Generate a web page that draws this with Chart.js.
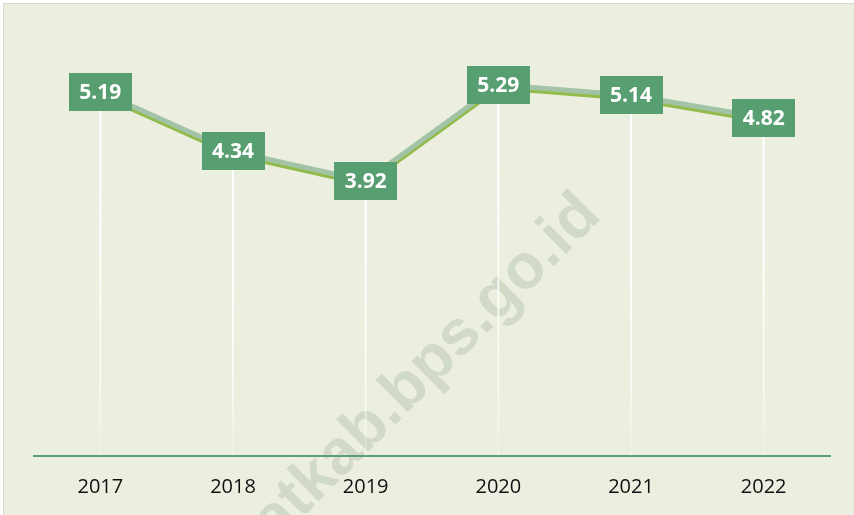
<!DOCTYPE html>
<html>
<head>
<meta charset="utf-8">
<script src="https://cdn.jsdelivr.net/npm/chart.js@4"></script>
<style>
  html, body { margin: 0; padding: 0; background: #fff; }
  #wrap {
    position: absolute; left: 3px; top: 3px; width: 850px; height: 512px;
    border-left: 1px solid #d6d6d6; border-top: 1px solid #d6d6d6;
    background: #ecefdf;
  }
  canvas { display: block; }
</style>
</head>
<body>
<div id="wrap"><canvas id="c" width="850" height="512"></canvas></div>
<script>
'use strict';

const years = ['2017', '2018', '2019', '2020', '2021', '2022'];
const values = [5.19, 4.34, 3.92, 5.29, 5.14, 4.82];
const yMin = 0;
const yMax = 6;

const BOX = '#579f70';
const LINE = '#a2c3a5';
const LINE_SHADOW = '#93bb4b';
const AXIS = '#5ba070';
const FONT = '"Open Sans", Lato, sans-serif';

// faint watermark behind everything
const watermark = {
  id: 'watermark',
  beforeDraw(chart) {
    const ctx = chart.ctx;
    ctx.save();
    ctx.translate(272, 540);
    ctx.rotate(-Math.PI / 4);
    ctx.font = 'bold 63px "Liberation Sans", Arial, sans-serif';
    ctx.fillStyle = '#d1d9c8';
    ctx.textBaseline = 'alphabetic';
    ctx.fillText('atkab.bps.go.id', 0, 0);
    ctx.restore();
  },
};

// white drop lines from each point down to the axis
const dropLines = {
  id: 'dropLines',
  beforeDatasetsDraw(chart) {
    const ctx = chart.ctx;
    const bottom = chart.chartArea.bottom;
    chart.getDatasetMeta(0).data.forEach((pt) => {
      const g = ctx.createLinearGradient(0, pt.y, 0, bottom);
      g.addColorStop(0, 'rgba(255,255,255,1)');
      g.addColorStop(0.75, 'rgba(255,255,255,0.7)');
      g.addColorStop(1, 'rgba(255,255,255,0.15)');
      ctx.save();
      ctx.strokeStyle = g;
      ctx.lineWidth = 2;
      ctx.beginPath();
      ctx.moveTo(pt.x, pt.y);
      ctx.lineTo(pt.x, bottom);
      ctx.stroke();
      ctx.restore();
    });
  },
};

// olive under-stroke for the line
const lineShadow = {
  id: 'lineShadow',
  beforeDatasetDraw(chart) {
    const ctx = chart.ctx;
    ctx.save();
    ctx.shadowColor = LINE_SHADOW;
    ctx.shadowOffsetY = 3;
    ctx.shadowBlur = 0;
  },
  afterDatasetDraw(chart) {
    chart.ctx.restore();
  },
};

// green value boxes
const valueBoxes = {
  id: 'valueBoxes',
  afterDatasetsDraw(chart) {
    const ctx = chart.ctx;
    const ds = chart.data.datasets[0];
    ctx.save();
    ctx.font = 'bold 21px ' + FONT;
    ctx.textAlign = 'center';
    ctx.textBaseline = 'middle';
    chart.getDatasetMeta(0).data.forEach((pt, i) => {
      const w = 63, h = 38;
      ctx.fillStyle = BOX;
      ctx.fillRect(Math.round(pt.x - w / 2), Math.round(pt.y - h / 2), w, h);
      ctx.fillStyle = '#ffffff';
      ctx.fillText(ds.data[i].toFixed(2), pt.x, pt.y + 1);
    });
    ctx.restore();
  },
};

new Chart(document.getElementById('c'), {
  type: 'line',
  data: {
    labels: years,
    datasets: [{
      data: values,
      borderColor: LINE,
      borderWidth: 5,
      tension: 0,
      pointRadius: 0,
      pointHoverRadius: 0,
      fill: false,
    }],
  },
  options: {
    responsive: false,
    animation: false,
    layout: { padding: { left: 30, right: 24, top: 31, bottom: 0 } },
    plugins: { legend: { display: false }, tooltip: { enabled: false } },
    scales: {
      x: {
        offset: true,
        grid: { display: false, drawTicks: false },
        border: { color: AXIS, width: 2 },
        ticks: { color: '#111', padding: 19, font: { family: FONT, size: 20 } },
        afterFit: (s) => { s.height = 60; },
      },
      y: { display: false, min: yMin, max: yMax },
    },
  },
  plugins: [watermark, dropLines, lineShadow, valueBoxes],
});
</script>
</body>
</html>
